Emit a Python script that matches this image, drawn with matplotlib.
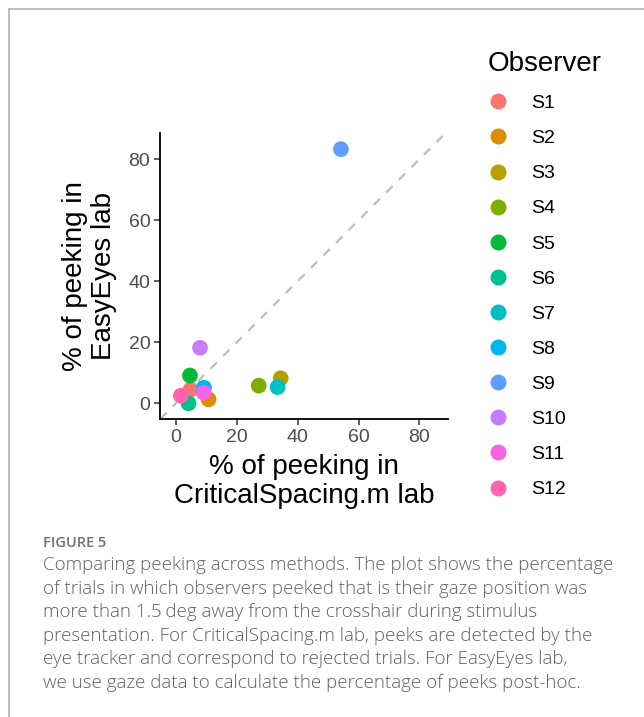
import matplotlib
matplotlib.use("Agg")
import matplotlib.pyplot as plt
from matplotlib.lines import Line2D

observers = ["S1", "S2", "S3", "S4", "S5", "S6", "S7", "S8", "S9", "S10", "S11", "S12"]
critical_spacing = [4.8, 10.7, 34.4, 27.2, 4.6, 4.1, 33.4, 9.2, 54.2, 7.9, 9.1, 1.6]
easyeyes = [4.5, 1.3, 8.2, 5.8, 9.1, 0.0, 5.3, 5.1, 83.3, 18.2, 3.5, 2.5]
colors = ["#F8766D", "#DE8C00", "#B79F00", "#7CAE00", "#00BA38", "#00C08B",
          "#00BFC4", "#00B4F0", "#619CFF", "#C77CFF", "#F564E3", "#FF64B0"]
ticks = [0, 20, 40, 60, 80]

caption_title = "FIGURE 5"
caption_lines = [
    "Comparing peeking across methods. The plot shows the percentage",
    "of trials in which observers peeked that is their gaze position was",
    "more than 1.5\u2009deg away from the crosshair during stimulus",
    "presentation. For CriticalSpacing.m lab, peeks are detected by the",
    "eye tracker and correspond to rejected trials. For EasyEyes lab,",
    "we use gaze data to calculate the percentage of peeks post-hoc.",
]

W, H = 644, 717
fig = plt.figure(figsize=(W / 100, H / 100), dpi=100)
fig.patch.set_facecolor("white")

ax = fig.add_axes([160 / W, 1 - 419 / H, (448.3 - 160) / W, (419 - 132.7) / H])
ax.set_xlim(-5.25, 89.5)
ax.set_ylim(-5.15, 88.7)

ax.axline((0, 0), slope=1, color="#BEBEBE", lw=1.6, dashes=(4, 4), zorder=1)
for i, name in enumerate(observers):
    ax.scatter(critical_spacing[i], easyeyes[i], s=128, color=colors[i],
               edgecolors="none", zorder=2 + i, label=name)

for side in ["top", "right"]:
    ax.spines[side].set_visible(False)
for side in ["left", "bottom"]:
    ax.spines[side].set_linewidth(1.3)
    ax.spines[side].set_color("black")
ax.set_xticks(ticks)
ax.set_yticks(ticks)
ax.tick_params(axis="both", length=4, width=1.1, color="#333333",
               labelsize=14, labelcolor="#4D4D4D", pad=3)
for lab in ax.get_xticklabels() + ax.get_yticklabels():
    lab.set_family("Liberation Sans")

ax.set_xlabel("% of peeking in\nCriticalSpacing.m lab", fontsize=20,
              family="Liberation Sans", linespacing=1.15, labelpad=6)
ax.set_ylabel("% of peeking in\nEasyEyes lab", fontsize=20,
              family="Liberation Sans", linespacing=1.15, labelpad=8)

handles = [Line2D([0], [0], marker="o", linestyle="none", markersize=11.5,
                  markerfacecolor=c, markeredgecolor="none") for c in colors]
leg = fig.legend(handles, observers, title="Observer", loc="upper left",
                 bbox_to_anchor=(488 / W, 1 - 51 / H), frameon=False,
                 prop={"family": "Liberation Sans", "size": 14},
                 title_fontproperties={"family": "Liberation Sans", "size": 20},
                 handlelength=1.0, handletextpad=1.2, labelspacing=0.9,
                 borderpad=0, borderaxespad=0, alignment="left")

# page frame
fig.add_artist(Line2D([9 / W, 1], [1 - 9 / H, 1 - 9 / H], color="#AFAFAF", lw=1.2,
                      transform=fig.transFigure))
fig.add_artist(Line2D([9 / W, 9 / W], [1 - 9 / H, 0], color="#AFAFAF", lw=1.2,
                      transform=fig.transFigure))

fig.text(43 / W, 1 - 543 / H, caption_title, fontsize=10.5, family="Open Sans",
         weight="semibold", color="#707070", va="center", ha="left")
for k, line in enumerate(caption_lines):
    fig.text(43 / W, 1 - (565 + k * 23.6) / H, line, fontsize=13.5,
             family=["Open Sans", "DejaVu Sans"], weight="light", color="#606060",
             va="center", ha="left")

fig.savefig("out.png", dpi=100, facecolor="white")
